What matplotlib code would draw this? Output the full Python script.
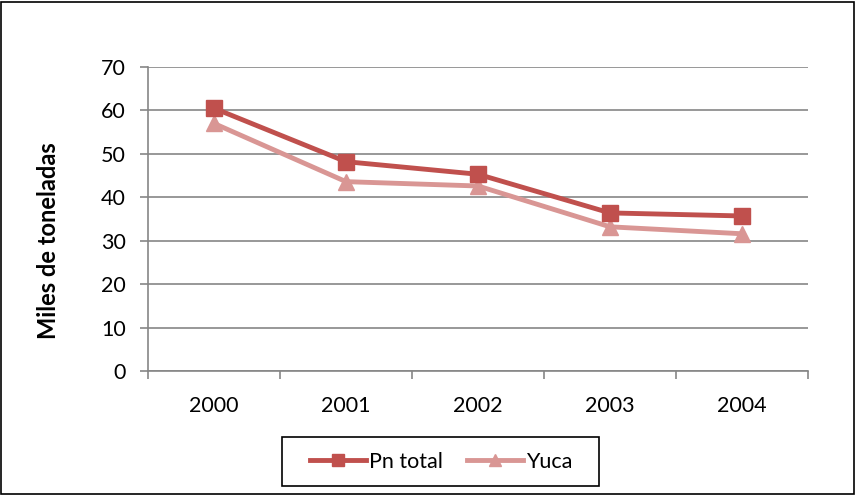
import matplotlib
matplotlib.use('Agg')
import matplotlib.pyplot as plt
from matplotlib.patches import Rectangle

plt.rcParams['font.family'] = ['Lato', 'DejaVu Sans']

years = ['2000', '2001', '2002', '2003', '2004']
pn_total = [60.5, 48.2, 45.3, 36.4, 35.7]
yuca = [57.0, 43.6, 42.6, 33.2, 31.6]
y_ticks = [0, 10, 20, 30, 40, 50, 60, 70]

W, H = 856, 495
fig = plt.figure(figsize=(W / 100, H / 100), dpi=100)
ax = fig.add_axes([148 / W, 1 - 371 / H, (808 - 148) / W, (371 - 67) / H])

# outer chart border
fig.patches.append(Rectangle((1 / W, 1 / H), (W - 3) / W, (H - 3) / H,
                             transform=fig.transFigure, fill=False,
                             edgecolor='black', linewidth=1.2))
# legend box
fig.patches.append(Rectangle((282 / W, 1 - 486 / H), (599 - 282) / W, (486 - 437) / H,
                             transform=fig.transFigure, fill=False,
                             edgecolor='black', linewidth=1.2))

x = list(range(len(years)))
ax.plot(x, pn_total, '-s', color='#C0504D', lw=3.5, ms=11,
        label='Pn total', zorder=3)
ax.plot(x, yuca, '-^', color='#D99694', lw=3.5, ms=11,
        label='Yuca', zorder=2)

ax.set_xlim(-0.5, len(years) - 0.5)
ax.set_ylim(0, 70)
ax.set_yticks(y_ticks)
ax.set_xticks(x)
ax.set_xticklabels(years)
ax.set_xticks([i - 0.5 for i in range(len(years) + 1)], minor=True)
ax.tick_params(axis='x', which='major', length=0, pad=18, labelsize=15.5)
ax.tick_params(axis='x', which='minor', length=6, direction='out', color='#868686', width=1.2)
ax.tick_params(axis='y', length=6, direction='out', color='#868686', width=1.2,
               labelsize=15.5, pad=10)

ax.yaxis.grid(True, color='#868686', lw=1.2)
ax.set_axisbelow(True)
for s in ['top', 'right']:
    ax.spines[s].set_visible(False)
for s in ['left', 'bottom']:
    ax.spines[s].set_color('#868686')
    ax.spines[s].set_linewidth(1.2)

fig.text(49 / W, 1 - 241 / H, 'Miles de toneladas', rotation=90, ha='center', va='center',
         fontsize=17, fontweight='bold')

leg = ax.legend(loc='center', bbox_to_anchor=((441 - 148) / (808 - 148), -(462 - 371) / (371 - 67)),
                ncol=2, frameon=False, fontsize=15.5, handlelength=2.6,
                handletextpad=0.15, columnspacing=1.1)
for h in leg.legend_handles:
    h.set_markersize(9)

fig.savefig('out.png', dpi=100)
